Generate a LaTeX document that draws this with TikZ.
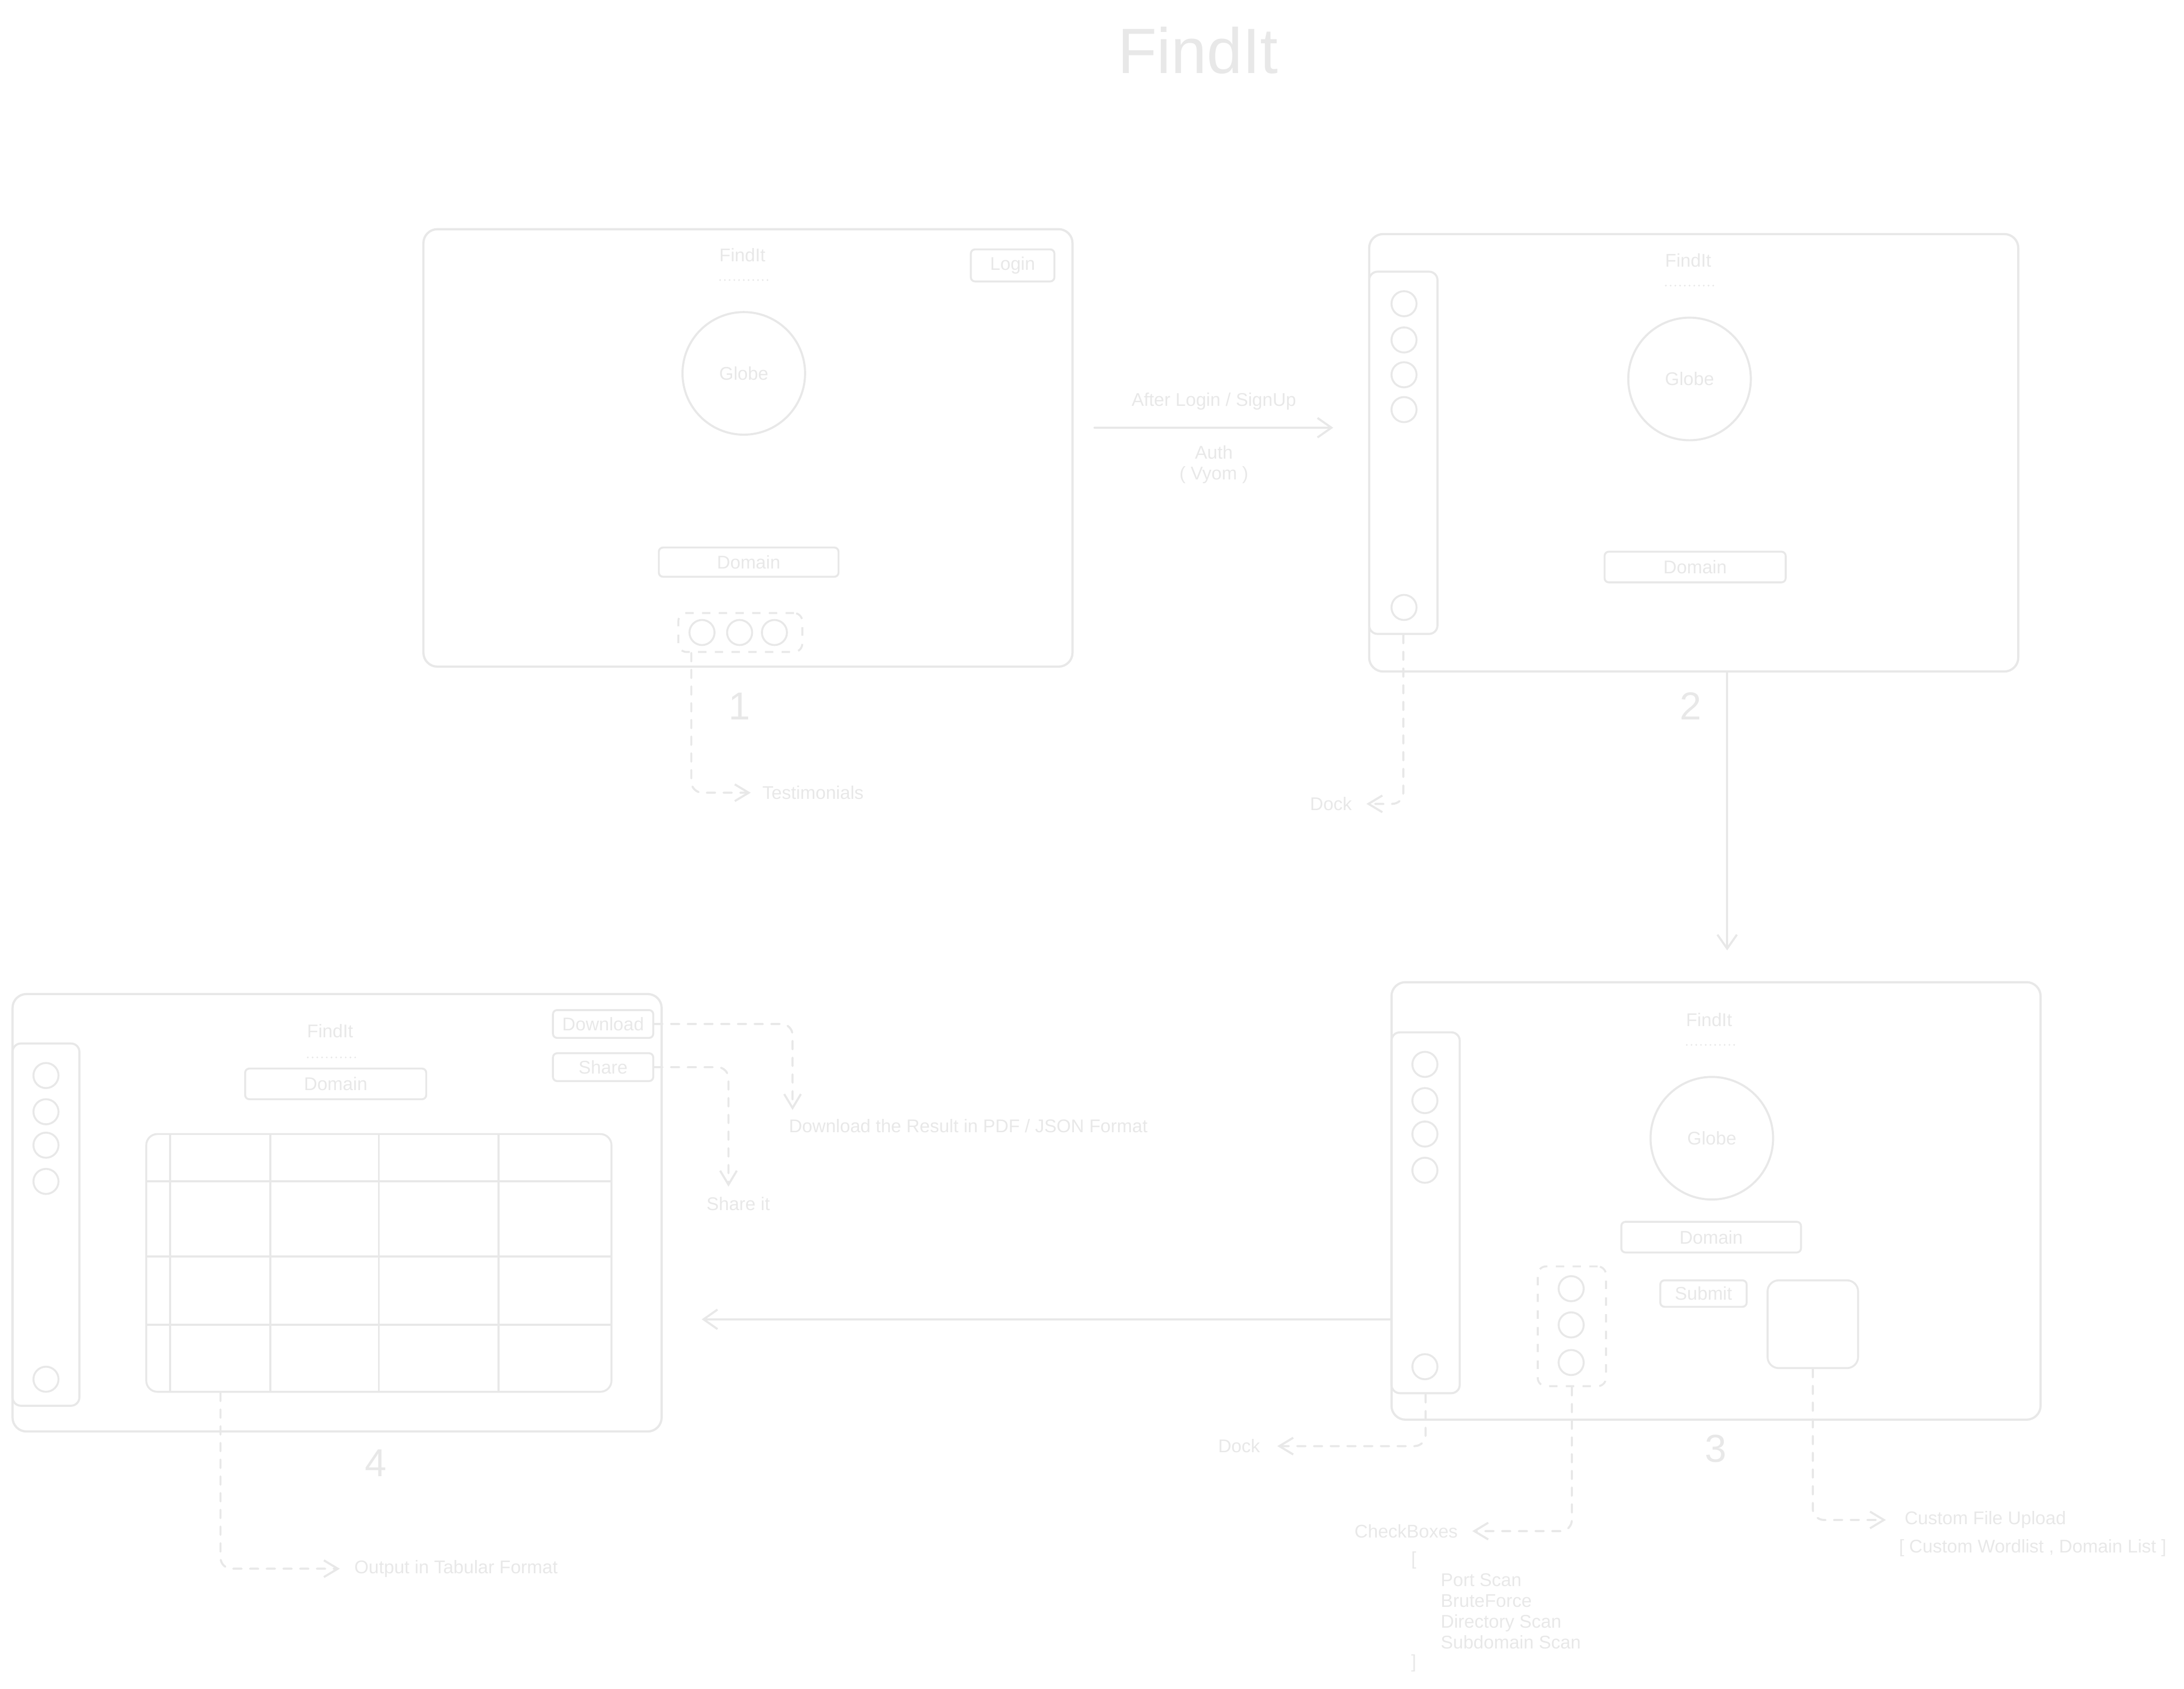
\documentclass[tikz,border=0pt]{standalone}
\usepackage{fontspec}
\setmainfont{Liberation Sans}
\usepackage{xcolor}
\usetikzlibrary{arrows.meta,positioning}
\definecolor{sketch}{RGB}{232,232,232}

\begin{document}
\begin{tikzpicture}[
    x=0.5pt,y=-0.5pt,
    every node/.style={text=sketch,font=\fontsize{6.6}{7.5}\selectfont},
    lbl/.style={inner sep=1pt},
    heading/.style={font=\fontsize{23}{26}\selectfont},
    num/.style={font=\fontsize{14}{16}\selectfont},
    screen/.style={draw=sketch,line width=0.8pt,rounded corners=5pt,inner sep=0pt,
                   minimum width=233pt,minimum height=157pt},
    dock/.style={draw=sketch,line width=0.75pt,rounded corners=3pt,inner sep=0pt,
                 minimum width=24.5pt,minimum height=130pt},
    btn/.style={draw=sketch,line width=0.7pt,rounded corners=1.5pt,inner sep=0pt},
    knob/.style={draw=sketch,line width=0.7pt,circle,inner sep=0pt,minimum size=9pt},
    globe/.style={draw=sketch,line width=0.75pt,circle,inner sep=0pt,minimum size=44pt},
    grp/.style={draw=sketch,line width=0.7pt,dash pattern=on 3pt off 3pt,
                rounded corners=3pt,inner sep=0pt},
    cell/.style={draw=sketch,line width=0.7pt},
    dots/.style={draw=sketch,line width=0.7pt,line cap=round,dash pattern=on 0pt off 1.7pt},
    flow/.style={draw=sketch,line width=0.75pt,line cap=round,
                 -{Straight Barb[length=5pt,width=7pt]}},
    note/.style={draw=sketch,line width=0.75pt,line cap=round,dash pattern=on 3pt off 3pt,
                 rounded corners=4pt,-{Straight Barb[length=5pt,width=6pt]},shorten >=4pt}
]
    \useasboundingbox (0,0) rectangle (1568,1212);

    \node[heading] (title) at (860,36) {FindIt};

    % Screen 1: landing page before login
    \node[screen] (scr1) at (537,321.5) {};
    \begin{scope}[shift={(304,165)}]
        \node[lbl] (name1) at (229,18) {FindIt};
        \draw[dots] (213,36) -- (247,36);
        \node[btn,minimum width=30pt,minimum height=11.5pt] (login) at (423,25.5) {Login};
        \node[globe] (globe1) at (230,103) {Globe};
        \node[btn,minimum width=64.5pt,minimum height=10.5pt] (dom1) at (233.5,238.5) {Domain};
        \node[grp,minimum width=44.5pt,minimum height=14pt] (testi) at (227.5,289) {};
        \foreach \x [count=\i] in {200,227,252}
            \node[knob] (testi\i) at (\x,289) {};
        \node[num] (num1) at (227,342) {1};
    \end{scope}
    \node[lbl,anchor=west] (testitxt) at (545,569) {Testimonials};
    \draw[note,shorten >=3pt] ([xshift=5pt]testi.south west) |- (testitxt.west);

    % Screen 2: home after login, with the dock
    \node[screen] (scr2) at (1216,325) {};
    \begin{scope}[shift={(983,168)}]
        \node[lbl] (name2) at (229,19) {FindIt};
        \draw[dots] (213,37) -- (247,37);
        \node[dock] (dock2) at (24.5,157) {};
        \foreach \y [count=\i] in {50,76,101,126,268}
            \node[knob] (dk2\i) at (25,\y) {};
        \node[globe] (globe2) at (230,104) {Globe};
        \node[btn,minimum width=65pt,minimum height=11pt] (dom2) at (234,239) {Domain};
        \node[num] (num2) at (231,339) {2};
    \end{scope}
    \node[lbl,anchor=east] (dk2txt) at (973,577) {Dock};
    \draw[note] (dock2.south) |- (dk2txt.east);

    % Screen 3: scan options
    \node[screen] (scr3) at (1232,862) {};
    \begin{scope}[shift={(999,705)}]
        \node[lbl] (name3) at (228,27) {FindIt};
        \draw[dots] (212,45) -- (246,45);
        \node[dock,minimum height=129.5pt] (dock3) at (24.5,165.5) {};
        \foreach \y [count=\i] in {59,85,109,135,276}
            \node[knob] (dk3\i) at (24,\y) {};
        \node[globe] (globe3) at (230,112) {Globe};
        \node[btn,minimum width=64.5pt,minimum height=11pt] (dom3) at (229.5,183) {Domain};
        \node[btn,minimum width=31pt,minimum height=9.5pt] (submit) at (224,223.5) {Submit};
        \node[grp,minimum width=24.5pt,minimum height=43pt] (checks) at (129.5,247) {};
        \foreach \y [count=\i] in {220,246,273}
            \node[knob] (chk\i) at (129,\y) {};
        \node[btn,rounded corners=4pt,minimum width=32.5pt,minimum height=31.5pt] (upload) at (302.5,245.5) {};
        \node[num] (num3) at (233,335) {3};
    \end{scope}
    \node[lbl,anchor=east] (dk3txt) at (907,1038) {Dock};
    \draw[note,shorten >=5pt] (dock3.south) |- (dk3txt.east);
    \node[lbl,anchor=east] (chktxt) at (1049,1099) {CheckBoxes};
    \draw[note] (checks.south) |- (chktxt.east);
    \node[lbl] (chkopen) at (1015,1120) {[};
    \node[lbl,anchor=north west,align=left] (chklist) at (1032,1127)
        {Port Scan\\BruteForce\\Directory Scan\\Subdomain Scan};
    \node[lbl] (chkclose) at (1015,1194) {]};
    \node[lbl,anchor=west] (uptxt) at (1365,1091) {Custom File Upload};
    \node[lbl,anchor=west] (uplist) at (1361,1111) {[ Custom Wordlist , Domain List ]};
    \draw[note,shorten >=5.5pt] (upload.south) |- (uptxt.west);

    % Screen 4: results table
    \node[screen] (scr4) at (242,870.5) {};
    \begin{scope}[shift={(9,714)}]
        \node[lbl] (name4) at (228,26) {FindIt};
        \draw[dots] (212,45) -- (246,45);
        \node[dock,minimum width=24pt] (dock4) at (24,165) {};
        \foreach \y [count=\i] in {58,84,108,134,276}
            \node[knob] (dk4\i) at (24,\y) {};
        \node[btn,minimum width=65pt,minimum height=11pt] (dom4) at (232,64) {Domain};
        \node[btn,minimum width=36pt,minimum height=10pt] (dload) at (424,21) {Download};
        \node[btn,minimum width=36pt,minimum height=10pt] (share) at (424,52) {Share};
        \node[btn,rounded corners=4pt,minimum width=167pt,minimum height=92.5pt] (tbl) at (263,192.5) {};
        \foreach \x in {113,185,263,349}
            \draw[cell] (\x,100) -- (\x,285);
        \foreach \y in {134,188,237}
            \draw[cell] (96,\y) -- (430,\y);
        \node[num] (num4) at (261,336) {4};
    \end{scope}
    \node[lbl,anchor=west] (tabtxt) at (252,1126) {Output in Tabular Format};
    \draw[note] ([xshift=27pt]tbl.south west) |- (tabtxt.west);
    \node[lbl,anchor=west] (dltxt) at (564,808) {Download the Result in PDF / JSON Format};
    \draw[note,shorten >=2pt] (dload.east) -| ([xshift=2.5pt]dltxt.north west);
    \node[lbl] (shtxt) at (530,864) {Share it};
    \draw[note,shorten >=2.5pt] (share.east) -| ([xshift=-3.5pt]shtxt.north);

    % Flow between the screens
    \draw[flow] ([xshift=7.5pt,yshift=7.25pt]scr1.east) -- ([xshift=-12.5pt,yshift=9pt]scr2.west)
        node[lbl,midway,above=5pt] (after) {After Login / SignUp}
        node[lbl,midway,below=5pt,align=center] (auth) {Auth\\( Vyom )};
    \draw[flow] ([xshift=12pt]scr2.south) -- ([xshift=4pt,yshift=11pt]scr3.north);
    \coordinate (back) at ([yshift=-42.5pt]scr3.west);
    \draw[flow,shorten >=14pt] (back) -- (back -| scr4.east);
\end{tikzpicture}
\end{document}
